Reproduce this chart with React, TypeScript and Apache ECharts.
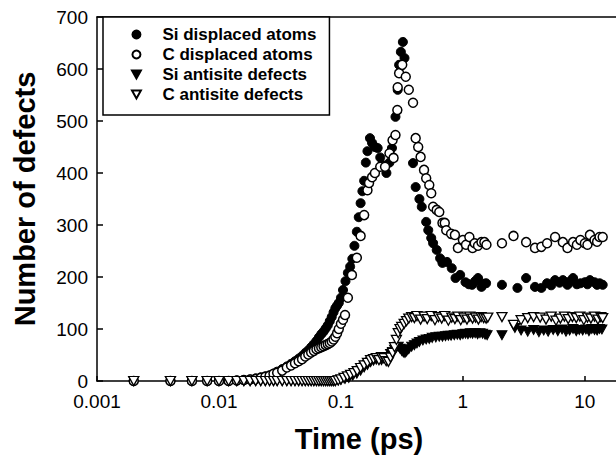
import React, { useEffect, useRef } from "react";
import * as echarts from "echarts";

const xTickLabels = ["0.001", "0.01", "0.1", "1", "10"];
const seriesNames = ["Si displaced atoms", "C displaced atoms", "Si antisite defects", "C antisite defects"];
const xTitle = "Time (ps)";
const yTitle = "Number of defects";

const siDisplaced: [number, number][] = [
  [0.002, 0], [0.004, 0], [0.006, 0], [0.008, 0], [0.010, 0], [0.012, 0], [0.014, 1], [0.016, 2], [0.018, 3],
  [0.020, 5], [0.022, 7], [0.024, 9], [0.026, 11], [0.028, 14], [0.030, 18], [0.033, 23], [0.036, 28], [0.039, 33],
  [0.042, 38], [0.045, 43], [0.048, 48], [0.051, 54], [0.054, 59], [0.057, 65], [0.060, 71], [0.063, 77], [0.066, 84],
  [0.069, 90], [0.072, 95], [0.075, 101], [0.078, 107], [0.081, 115], [0.084, 123], [0.087, 132], [0.090, 140],
  [0.093, 145], [0.096, 150], [0.100, 160], [0.104, 175], [0.109, 192], [0.114, 208], [0.119, 220], [0.124, 235],
  [0.129, 260], [0.135, 287], [0.140, 315], [0.145, 342], [0.150, 365], [0.155, 385], [0.160, 420], [0.165, 442],
  [0.173, 467], [0.180, 458], [0.190, 450], [0.200, 448], [0.210, 430], [0.222, 415], [0.236, 400], [0.250, 420],
  [0.262, 448], [0.280, 508], [0.292, 560], [0.300, 608], [0.310, 633], [0.322, 652], [0.332, 621],
  [0.390, 419], [0.410, 373], [0.440, 350], [0.460, 335], [0.500, 306], [0.520, 290], [0.550, 275], [0.570, 265],
  [0.610, 252], [0.650, 236], [0.680, 227], [0.740, 229], [0.810, 217], [0.870, 198], [0.950, 204], [1.050, 190],
  [1.120, 186], [1.190, 185], [1.260, 192], [1.330, 198], [1.420, 181], [1.480, 187], [1.550, 188],
  [2.09, 185], [2.8, 179], [3.3, 198], [3.9, 181], [4.4, 179], [4.9, 188], [5.3, 184], [5.7, 194], [6.2, 189],
  [6.6, 194], [7.2, 185], [7.6, 192], [8.0, 198], [8.6, 186], [9.2, 188], [10.0, 190], [10.5, 186], [11.0, 194],
  [12.0, 190], [12.6, 185], [13.2, 188], [14.0, 185],
];

const cDisplaced: [number, number][] = [
  [0.002, 0], [0.004, 0], [0.006, 0], [0.008, 0], [0.010, 0], [0.012, 0], [0.014, 1], [0.016, 2], [0.018, 3],
  [0.020, 4], [0.022, 6], [0.024, 8], [0.026, 10], [0.028, 14], [0.030, 16], [0.033, 20], [0.036, 26], [0.039, 30],
  [0.042, 34], [0.045, 38], [0.048, 42], [0.051, 47], [0.054, 51], [0.057, 55], [0.060, 58], [0.063, 61], [0.066, 63],
  [0.069, 65], [0.072, 67], [0.075, 69], [0.078, 71], [0.081, 73], [0.084, 76], [0.087, 80], [0.090, 85], [0.093, 92],
  [0.096, 100], [0.100, 110], [0.104, 118], [0.108, 127], [0.114, 160], [0.123, 204], [0.135, 237], [0.145, 279],
  [0.155, 319], [0.165, 367], [0.170, 381], [0.180, 392], [0.190, 400], [0.210, 412], [0.230, 412], [0.250, 438],
  [0.265, 463], [0.270, 429], [0.280, 473], [0.290, 521], [0.292, 565], [0.300, 592], [0.318, 608], [0.340, 585],
  [0.360, 560], [0.390, 535], [0.410, 467], [0.430, 450], [0.450, 431], [0.480, 406], [0.500, 390], [0.530, 377],
  [0.550, 361], [0.570, 335], [0.610, 329], [0.640, 325], [0.680, 304], [0.710, 304], [0.730, 290], [0.800, 283],
  [0.860, 281], [0.910, 256], [1.000, 271], [1.060, 262], [1.130, 277], [1.200, 256], [1.250, 265], [1.330, 260],
  [1.420, 267], [1.500, 267], [1.560, 262],
  [2.09, 265], [2.6, 279], [3.3, 267], [3.9, 256], [4.4, 258], [4.9, 265], [5.7, 277], [6.6, 267], [7.2, 256],
  [8.0, 267], [8.6, 262], [9.2, 271], [10.0, 265], [10.5, 262], [11.0, 281], [12.0, 271], [12.6, 268], [13.2, 277],
  [14.0, 277],
];

const siAntisite: [number, number][] = [
  [0.002, 0], [0.004, 0], [0.006, 0], [0.008, 0], [0.010, 0], [0.012, 0], [0.014, 0], [0.016, 0], [0.018, 0],
  [0.020, 0], [0.022, 0], [0.024, 0], [0.026, 0], [0.028, 0], [0.030, 0], [0.033, 0], [0.036, 0], [0.039, 0],
  [0.042, 0], [0.045, 0], [0.048, 0], [0.051, 0], [0.054, 0], [0.057, 0], [0.060, 0], [0.063, 0], [0.066, 0],
  [0.069, 0], [0.072, 0], [0.075, 0], [0.078, 0], [0.081, 0], [0.084, 0], [0.087, 0], [0.090, 0], [0.095, 1],
  [0.100, 2], [0.108, 4], [0.116, 6], [0.125, 10], [0.135, 14], [0.145, 20], [0.155, 26], [0.165, 31], [0.175, 36],
  [0.185, 39], [0.195, 41], [0.205, 42], [0.215, 40], [0.225, 44], [0.235, 42], [0.245, 46], [0.255, 52], [0.265, 56],
  [0.275, 60], [0.285, 64], [0.295, 66], [0.305, 62], [0.315, 58], [0.325, 55], [0.335, 54], [0.345, 57], [0.36, 61],
  [0.38, 66], [0.40, 69], [0.42, 72], [0.44, 75], [0.47, 78], [0.50, 80], [0.53, 81], [0.56, 83], [0.60, 84],
  [0.64, 85], [0.68, 85], [0.72, 86], [0.76, 87], [0.80, 87], [0.85, 88], [0.90, 89], [0.95, 88], [1.00, 90],
  [1.05, 91], [1.10, 90], [1.15, 92], [1.20, 91], [1.26, 92], [1.32, 90], [1.38, 92], [1.45, 91], [1.52, 89],
  [1.58, 88],
  [2.09, 88], [2.67, 102], [3.0, 97], [3.4, 95], [3.8, 98], [4.2, 94], [4.6, 97], [5.0, 95], [5.5, 98], [6.0, 96],
  [6.5, 99], [7.0, 95], [7.5, 97], [8.0, 100], [8.5, 96], [9.0, 98], [9.6, 97], [10.2, 99], [10.8, 96], [11.4, 100],
  [12.0, 98], [12.6, 97], [13.2, 100], [13.8, 99],
];

const cAntisite: [number, number][] = [
  [0.002, 0], [0.004, 0], [0.006, 0], [0.008, 0], [0.010, 0], [0.012, 0], [0.014, 0], [0.016, 0], [0.018, 0],
  [0.020, 0], [0.022, 0], [0.024, 0], [0.026, 0], [0.028, 0], [0.030, 0], [0.033, 0], [0.036, 0], [0.039, 0],
  [0.042, 0], [0.045, 0], [0.048, 0], [0.051, 0], [0.054, 0], [0.057, 0], [0.060, 0], [0.063, 0], [0.066, 0],
  [0.069, 0], [0.072, 0], [0.075, 0], [0.078, 0], [0.081, 0], [0.084, 0], [0.087, 0], [0.090, 0], [0.095, 1],
  [0.100, 3], [0.106, 6], [0.113, 9], [0.120, 12], [0.128, 15], [0.136, 19], [0.145, 25], [0.155, 30], [0.165, 35],
  [0.175, 40], [0.185, 42], [0.195, 44], [0.205, 40], [0.215, 46], [0.225, 44], [0.235, 38], [0.245, 37], [0.255, 45],
  [0.265, 54], [0.275, 65], [0.285, 79], [0.295, 92], [0.305, 100], [0.315, 104], [0.33, 110], [0.345, 115],
  [0.36, 120], [0.38, 123], [0.40, 121], [0.42, 125], [0.45, 118], [0.48, 124], [0.51, 119], [0.55, 125], [0.59, 117],
  [0.63, 123], [0.67, 120], [0.71, 125], [0.76, 116], [0.81, 122], [0.86, 119], [0.91, 124], [0.96, 117], [1.02, 122],
  [1.08, 118], [1.14, 124], [1.20, 120], [1.27, 122], [1.34, 118], [1.41, 123], [1.48, 121], [1.55, 120], [1.60, 122],
  [2.09, 123], [2.6, 108], [3.0, 117], [3.4, 121], [3.8, 123], [4.3, 122], [4.8, 118], [5.3, 124], [5.8, 116],
  [6.3, 120], [6.8, 124], [7.3, 119], [7.9, 123], [8.5, 121], [9.1, 124], [9.8, 117], [10.5, 122], [11.2, 120],
  [12.0, 124], [12.8, 118], [13.5, 123], [14.0, 121],
];

export default function App() {
  const ref = useRef<HTMLDivElement>(null);
  useEffect(() => {
    const chart = echarts.init(ref.current!, null, { renderer: "svg" });
    const font = "'Liberation Sans', Arial, Helvetica, sans-serif";
    const tri = "path://M0,0L10,0L5,9Z";
    const axisLineStyle = { color: "#000", width: 1.5 };
    const xFormatter = (v: number) => {
      const lg = Math.log10(v);
      const e = Math.round(lg);
      const idx = e + 3;
      return Math.abs(lg - e) < 1e-6 && idx >= 0 && idx < xTickLabels.length ? xTickLabels[idx] : "";
    };
    chart.setOption({
      animation: false,
      backgroundColor: "#fff",
      graphic: [
        {
          type: "text",
          x: 359,
          y: 439,
          silent: true,
          style: {
            text: xTitle,
            fontFamily: font,
            fontWeight: "bold",
            fontSize: 29,
            fill: "#000",
            align: "center",
            verticalAlign: "middle",
          },
        },
      ],
      grid: { left: 97, top: 17, right: 0, bottom: 74, containLabel: false, outerBoundsMode: "none" },
      xAxis: [
        {
          type: "log",
          logBase: 10,
          min: 0.001,
          max: 18,
          axisLine: { show: true, lineStyle: axisLineStyle },
          axisTick: { show: true, inside: true, length: 5, lineStyle: axisLineStyle },
          minorTick: { show: false },
          splitLine: { show: false },
          minorSplitLine: { show: false },
          axisLabel: {
            formatter: xFormatter,
            showMaxLabel: false,
            margin: 11,
            fontSize: 19,
            lineHeight: 19,
            color: "#000",
            fontFamily: font,
          },
        },
        {
          type: "log",
          logBase: 10,
          min: 0.001,
          max: 18,
          position: "top",
          axisLine: { show: true, lineStyle: axisLineStyle },
          axisTick: { show: false },
          axisLabel: { show: false },
          splitLine: { show: false },
        },
      ],
      yAxis: {
        type: "value",
        min: 0,
        max: 700,
        interval: 100,
        name: yTitle,
        nameLocation: "middle",
        nameGap: 58,
        nameTextStyle: { fontFamily: font, fontWeight: "bold", fontSize: 29, color: "#000" },
        axisLine: { show: true, lineStyle: axisLineStyle },
        axisTick: { show: true, inside: true, length: 6, lineStyle: axisLineStyle },
        splitLine: { show: false },
        axisLabel: { margin: 9, fontSize: 19, lineHeight: 17, color: "#000", fontFamily: font },
      },
      legend: {
        data: seriesNames,
        orient: "vertical",
        left: 103,
        top: 17,
        padding: [9, 13, 12, 28],
        itemWidth: 42,
        itemHeight: 8,
        itemGap: 3,
        borderColor: "#000",
        borderWidth: 1.5,
        backgroundColor: "#fff",
        selectedMode: false,
        textStyle: { fontFamily: font, fontWeight: "bold", fontSize: 17, lineHeight: 17, color: "#000" },
      },
      series: [
        {
          name: seriesNames[0],
          type: "scatter",
          data: siDisplaced,
          symbol: "circle",
          symbolSize: 9,
          clip: false,
          silent: true,
          itemStyle: { color: "#000", borderColor: "#000", borderWidth: 1, opacity: 1 },
        },
        {
          name: seriesNames[2],
          type: "scatter",
          data: siAntisite,
          symbol: tri,
          symbolSize: [10, 9],
          clip: false,
          silent: true,
          itemStyle: { color: "#000", borderColor: "#000", borderWidth: 1, opacity: 1 },
        },
        {
          name: seriesNames[1],
          type: "scatter",
          data: cDisplaced,
          symbol: "circle",
          symbolSize: 9,
          clip: false,
          silent: true,
          itemStyle: { color: "#fff", borderColor: "#000", borderWidth: 1.5, opacity: 1 },
        },
        {
          name: seriesNames[3],
          type: "scatter",
          data: cAntisite,
          symbol: tri,
          symbolSize: [10, 9],
          clip: false,
          silent: true,
          itemStyle: { color: "#fff", borderColor: "#000", borderWidth: 1.3, opacity: 1 },
        },
      ],
    });
    return () => chart.dispose();
  }, []);
  return <div ref={ref} style={{ position: "fixed", left: 0, top: 0, width: 616, height: 455 }} />;
}
